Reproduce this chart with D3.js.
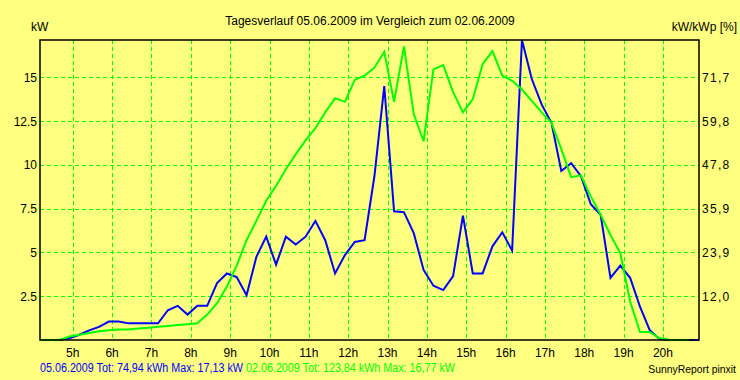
<!DOCTYPE html>
<html>
<head>
<meta charset="utf-8">
<script src="https://cdn.jsdelivr.net/npm/d3@7"></script>
<style>
  body { margin: 0; background: #ffff80; }
  svg { display: block; font-family: "Liberation Sans", Arial, sans-serif; }
</style>
</head>
<body>
<div id="chart"></div>
<script>
// 15-minute readings from 4:10 to 20:55 (kW)
const startHour = 4 + 10 / 60;
const stepHour = 0.25;

const day1 = [0, 0, 0, 0.1, 0.3, 0.55, 0.75, 1.05, 1.05, 0.95,
  0.95, 0.95, 0.95, 1.7, 1.95, 1.45, 1.95, 1.95, 3.25, 3.8,
  3.6, 2.55, 4.75, 5.9, 4.3, 5.9, 5.45, 5.9, 6.8, 5.7,
  3.8, 4.85, 5.6, 5.7, 9.35, 14.5, 7.35, 7.3, 6.1, 4.0,
  3.1, 2.85, 3.65, 7.1, 3.8, 3.8, 5.35, 6.15, 5.1, 17.13,
  14.9, 13.45, 12.4, 9.65, 10.1, 9.35, 7.75, 7.15, 3.55, 4.25,
  3.55, 1.9, 0.55, 0.05, 0, 0, 0, 0];

const day2 = [0, 0, 0, 0.2, 0.3, 0.4, 0.5, 0.55, 0.6, 0.6,
  0.65, 0.7, 0.75, 0.8, 0.85, 0.9, 0.95, 1.45, 2.1, 3.05,
  4.25, 5.7, 6.8, 7.95, 8.8, 9.75, 10.6, 11.4, 12.1, 13.0,
  13.8, 13.6, 14.85, 15.1, 15.55, 16.45, 13.6, 16.77, 12.9, 11.35,
  15.45, 15.7, 14.15, 13.0, 13.75, 15.75, 16.5, 15.1, 14.8, 14.3,
  13.65, 13.0, 12.4, 10.9, 9.3, 9.4, 8.2, 7.15, 6.0, 4.95,
  2.2, 0.45, 0.45, 0.1, 0, 0, 0];

const hourTicks = [5, 6, 7, 8, 9, 10, 11, 12, 13, 14, 15, 16, 17, 18, 19, 20];
const kwTicks = [2.5, 5, 7.5, 10, 12.5, 15];
const kwLabels = ["2.5", "5", "7.5", "10", "12.5", "15"];
const pctLabels = ["12,0", "23,9", "35,9", "47,8", "59,8", "71,7"];
const yMax = 17.13;

const width = 740, height = 380;
const margin = { top: 40, right: 41, bottom: 40, left: 40 };

const svg = d3.select("#chart").append("svg")
  .attr("width", width)
  .attr("height", height);

svg.append("rect").attr("width", width).attr("height", height).attr("fill", "#ffff80");

const x = d3.scaleLinear()
  .domain([startHour, startHour + 67 * stepHour])
  .range([margin.left, width - margin.right]);

const y = d3.scaleLinear()
  .domain([0, yMax])
  .range([height - margin.bottom, margin.top]);

const grid = svg.append("g")
  .attr("stroke", "#00ff00")
  .attr("stroke-width", 1)
  .attr("stroke-dasharray", "4,3");

grid.selectAll(".vg").data(hourTicks).join("line")
  .attr("x1", d => Math.round(x(d)) + 0.5).attr("x2", d => Math.round(x(d)) + 0.5)
  .attr("y1", margin.top).attr("y2", height - margin.bottom);

grid.selectAll(".hg").data(kwTicks).join("line")
  .attr("y1", d => Math.round(y(d)) + 0.5).attr("y2", d => Math.round(y(d)) + 0.5)
  .attr("x1", margin.left).attr("x2", width - margin.right);

const line = d3.line()
  .x((d, i) => x(startHour + i * stepHour))
  .y(d => y(d));

svg.append("path")
  .datum(day1)
  .attr("fill", "none")
  .attr("stroke", "#0000ff")
  .attr("stroke-width", 2)
  .attr("d", line);

svg.append("path")
  .datum(day2)
  .attr("fill", "none")
  .attr("stroke", "#00ff00")
  .attr("stroke-width", 2)
  .attr("d", line);

// frame
svg.append("rect")
  .attr("x", margin.left).attr("y", margin.top)
  .attr("width", width - margin.left - margin.right)
  .attr("height", height - margin.top - margin.bottom)
  .attr("fill", "none")
  .attr("stroke", "#000")
  .attr("stroke-width", 1.5);

const txt = svg.append("g").attr("font-size", 12).attr("fill", "#000");

txt.selectAll(".lt").data(kwTicks).join("text")
  .attr("x", 37).attr("y", d => y(d) + 4.5)
  .attr("text-anchor", "end")
  .text((d, i) => kwLabels[i]);

txt.selectAll(".rt").data(kwTicks).join("text")
  .attr("x", 702).attr("y", d => y(d) + 4.5)
  .attr("letter-spacing", 1.3)
  .text((d, i) => pctLabels[i]);

txt.selectAll(".bt").data(hourTicks).join("text")
  .attr("x", d => x(d)).attr("y", 357)
  .attr("text-anchor", "middle")
  .text(d => d + "h");

txt.append("text").attr("x", 370).attr("y", 25).attr("text-anchor", "middle")
  .text("Tagesverlauf 05.06.2009 im Vergleich zum 02.06.2009");
txt.append("text").attr("x", 31).attr("y", 31).text("kW");
txt.append("text").attr("x", 737).attr("y", 31).attr("text-anchor", "end").text("kW/kWp [%]");

txt.append("text").attr("x", 40).attr("y", 372)
  .attr("fill", "#0000ff")
  .attr("textLength", 203).attr("lengthAdjust", "spacingAndGlyphs")
  .text("05.06.2009 Tot: 74,94 kWh Max: 17,13 kW");
txt.append("text").attr("x", 246).attr("y", 372)
  .attr("fill", "#00ff00")
  .attr("textLength", 209).attr("lengthAdjust", "spacingAndGlyphs")
  .text("02.06.2009 Tot: 123,84 kWh Max: 16,77 kW");

txt.append("text").attr("x", 736).attr("y", 373)
  .attr("text-anchor", "end")
  .attr("font-size", 10.4)
  .text("SunnyReport pinxit");
</script>
</body>
</html>
